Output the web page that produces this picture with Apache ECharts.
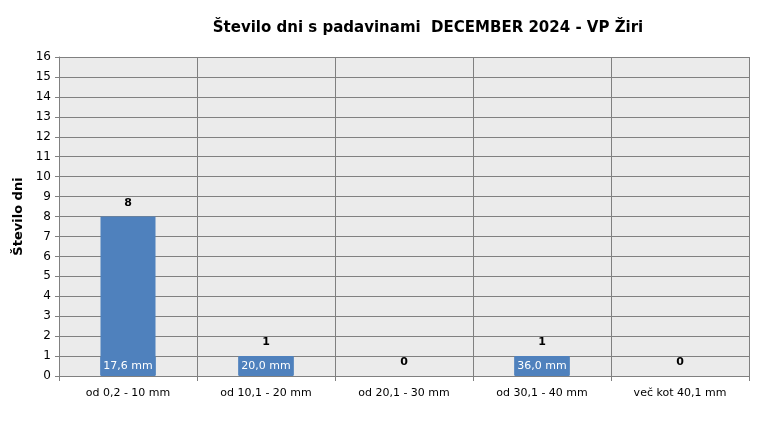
<!DOCTYPE html>
<html>
<head>
<meta charset="utf-8">
<script src="https://cdn.jsdelivr.net/npm/echarts@6/dist/echarts.min.js"></script>
<style>
  html, body { margin: 0; padding: 0; background: #fff; }
  #main { width: 770px; height: 439px; }
</style>
</head>
<body>
<div id="main"></div>
<script>
var categories = ['od 0,2 - 10 mm', 'od 10,1 - 20 mm', 'od 20,1 - 30 mm', 'od 30,1 - 40 mm', 'več kot 40,1 mm'];
var dayCounts = [8, 1, 0, 1, 0];
var maxAmounts = ['17,6 mm', '20,0 mm', '', '36,0 mm', ''];

var chart = echarts.init(document.getElementById('main'));
var font = 'DejaVu Sans';

// overlay bars only carry the mm label, hidden where there is no amount
var amountData = dayCounts.map(function (v, i) {
    return { value: v, label: { show: maxAmounts[i] !== '' } };
});

var option = {
    animation: false,
    textStyle: { fontFamily: font },
    title: {
        text: 'Število dni s padavinami  DECEMBER 2024 - VP Žiri',
        left: 423,
        textAlign: 'center',
        top: 16,
        textStyle: { fontSize: 15, fontWeight: 'bold', color: '#000', fontFamily: font }
    },
    grid: { left: 59, right: 21, top: 57, bottom: 63, containLabel: false, show: true, backgroundColor: '#ebebeb', borderWidth: 0 },
    xAxis: {
        type: 'category',
        data: categories,
        axisLine: { lineStyle: { color: '#808080', width: 1 } },
        axisTick: { show: true, length: 5, lineStyle: { color: '#808080' } },
        splitLine: { show: true, lineStyle: { color: '#808080', width: 1 } },
        axisLabel: { color: '#000', fontSize: 11, margin: 12 }
    },
    yAxis: {
        type: 'value',
        min: 0,
        max: 16,
        interval: 1,
        name: 'Število dni',
        nameLocation: 'middle',
        nameGap: 34,
        nameTextStyle: { fontSize: 13, fontWeight: 'bold', color: '#000' },
        axisLine: { show: true, lineStyle: { color: '#808080' } },
        axisTick: { show: true, length: 4, lineStyle: { color: '#808080' } },
        splitLine: { show: true, lineStyle: { color: '#808080', width: 1 } },
        axisLabel: { color: '#000', fontSize: 12, margin: 8 }
    },
    series: [
        {
            name: 'dni',
            type: 'bar',
            data: dayCounts,
            barWidth: 55,
            itemStyle: { color: '#4f81bd' },
            label: { show: true, position: 'top', distance: 8, color: '#000', fontWeight: 'bold', fontSize: 11 }
        },
        {
            name: 'mm',
            type: 'bar',
            data: amountData,
            barWidth: 55,
            barGap: '-100%',
            silent: true,
            itemStyle: { color: 'rgba(0,0,0,0)' },
            label: {
                show: true,
                position: 'insideBottom',
                distance: 1,
                color: '#fff',
                fontSize: 11,
                backgroundColor: '#4f81bd',
                padding: [4, 3, 3, 3],
                formatter: function (p) { return maxAmounts[p.dataIndex]; }
            }
        }
    ]
};

chart.setOption(option);
</script>
</body>
</html>
